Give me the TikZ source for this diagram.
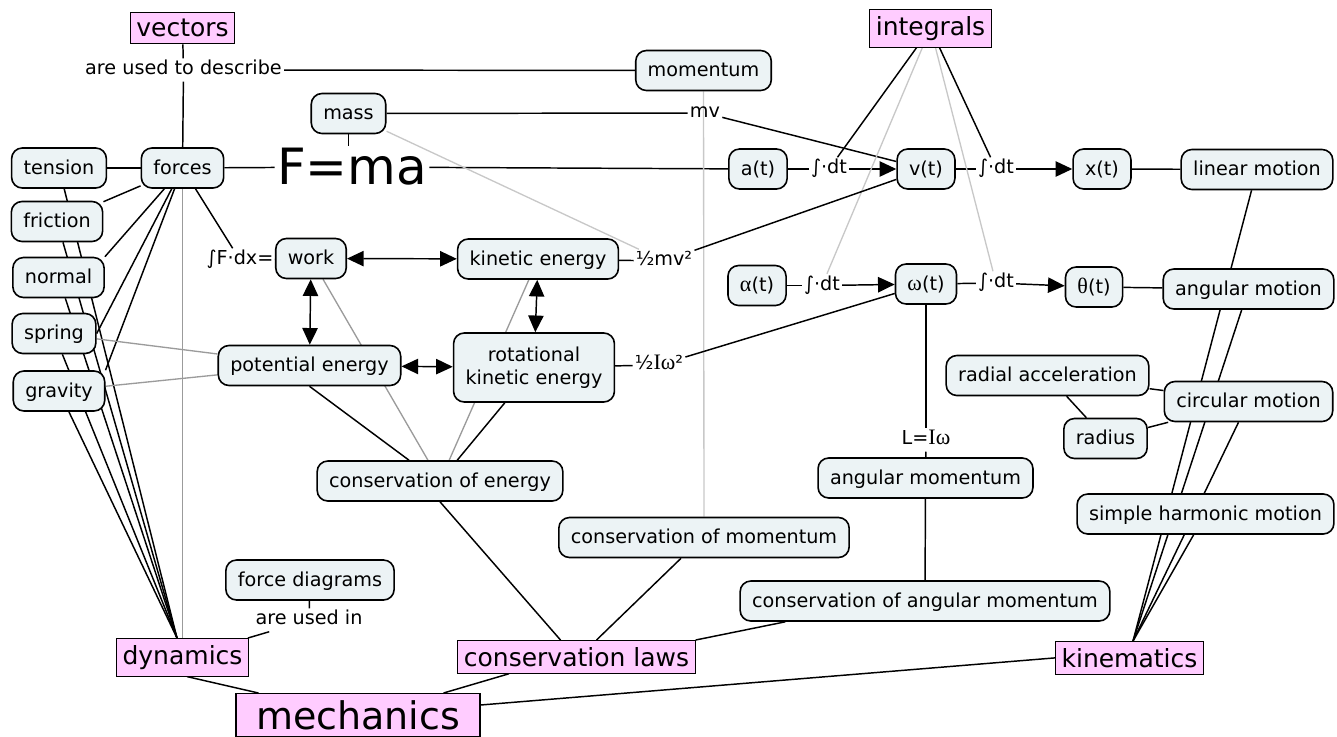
\documentclass[tikz,border=0pt]{standalone}
\usepackage{fontspec}
\setmainfont{DejaVu Sans}
\newfontfamily\grk[Scale=1.15]{Liberation Serif}
\usetikzlibrary{arrows.meta,backgrounds,calc}
\definecolor{boxfill}{RGB}{236,243,245}
\definecolor{topicfill}{RGB}{255,204,255}
\definecolor{midgray}{RGB}{155,155,155}
\definecolor{softgray}{RGB}{200,200,200}
\tikzset{
  cbox/.style={draw=black, line width=1.2pt, fill=boxfill, rounded corners=8pt,
    font=\fontsize{14.4}{17}\selectfont, inner xsep=9pt, inner ysep=7.9pt},
  cpt/.style={cbox, text height=11.6pt, text depth=2.6pt},
  topic/.style={draw=black, line width=0.8pt, fill=topicfill,
    font=\fontsize{18.75}{22}\selectfont, inner xsep=4.5pt, inner ysep=5pt, anchor=north},
  phrase/.style={font=\fontsize{14.4}{17}\selectfont, text height=10.8pt, text depth=3.4pt, inner sep=1.5pt},
  conn/.style={line width=1.1pt, black},
  conngray/.style={line width=1pt, midgray},
  connlight/.style={line width=1pt, softgray},
  arr/.style={conn, -{Triangle[length=12.5pt,width=11.5pt]}},
  darr/.style={conn, {Triangle[length=12.5pt,width=11.5pt]}-{Triangle[length=12.5pt,width=11.5pt]}},
}
\begin{document}
\begin{tikzpicture}[x=0.75pt,y=-0.75pt]
\useasboundingbox (0,0) rectangle (1337,736);

% topic headings
\node[topic] (vectors) at (182.5,12) {vectors};
\node[topic] (integrals) at (930.5,9) {integrals};
\node[topic] (dynamics) at (182.5,638) {dynamics};
\node[topic] (claws) at (576.5,640) {conservation laws};
\node[topic] (kinematics) at (1129.5,641) {kinematics};
\node[topic, font=\fontsize{28.5}{34}\selectfont, minimum width=183pt] (mechanics) at (358,693) {mechanics};

% concepts
\node[cpt] (tension) at (59,168) {tension};
\node[cpt] (forces) at (182.5,168) {forces};
\node[cpt] (friction) at (57,221.5) {friction};
\node[cpt] (normal) at (58.5,277.5) {normal};
\node[cpt] (spring) at (54,333.5) {spring};
\node[cpt] (gravity) at (59,391) {gravity};
\node[cpt] (mass) at (348.5,113.5) {mass};
\node[cpt] (momentum) at (703.5,70.5) {momentum};
\node[cpt] (at) at (758,169) {a(t)};
\node[cpt] (vt) at (926,169) {v(t)};
\node[cpt] (xt) at (1102,169) {x(t)};
\node[cpt] (linear) at (1257,169.5) {linear motion};
\node[cpt] (work) at (311,258.5) {work};
\node[cpt] (kinetic) at (538,259) {kinetic energy};
\node[cpt] (potential) at (309.5,365.5) {potential energy};
\node[cbox, align=center, font=\fontsize{14.4}{17.3}\selectfont, minimum height=51.75pt] (rotational) at (534,367.5) {rotational\\kinetic energy};
\node[cpt] (alphat) at (757,285.5) {{\grk α}(t)};
\node[cpt] (omegat) at (926,284) {{\grk ω}(t)};
\node[cpt] (thetat) at (1094,287) {{\grk θ}(t)};
\node[cpt] (angular) at (1248.5,289) {angular motion};
\node[cpt] (radacc) at (1047.5,375.5) {radial acceleration};
\node[cpt] (radius) at (1105.5,438.5) {radius};
\node[cpt] (circular) at (1248.5,401.5) {circular motion};
\node[cpt] (angmom) at (925.5,478) {angular momentum};
\node[cpt] (shm) at (1205.5,514) {simple harmonic motion};
\node[cpt] (consE) at (440,481) {conservation of energy};
\node[cpt] (consM) at (704,537.5) {conservation of momentum};
\node[cpt] (consAM) at (925,601) {conservation of angular momentum};
\node[cpt] (fdiag) at (310,580) {force diagrams};

% linking phrases
\node[phrase] (pdescribe) at (183.5,70) {are used to describe};
\node[phrase] (pmv) at (705,113) {mv};
\node[phrase] (pint1) at (829,169) {∫·dt};
\node[phrase] (pint2) at (996,169) {∫·dt};
\node[phrase] (pint3) at (822,285.5) {∫·dt};
\node[phrase] (pint4) at (996,283) {∫·dt};
\node[phrase] (pwork) at (240,260) {∫F·dx=};
\node[phrase] (phalfmv) at (664,261) {½mv²};
\node[phrase] (phalfiw) at (659,365) {½{\grk Iω}²};
\node[phrase] (pL) at (926,440) {L={\grk Iω}};
\node[phrase] (pusedin) at (309,620) {are used in};
\node[font=\fontsize{37.5}{40}\selectfont, inner sep=1.5pt] (fma) at (352,167) {F=ma};

\begin{scope}[on background layer]
  % vectors and forces
  \draw[conn] (vectors) -- (pdescribe);
  \draw[conn] (pdescribe) -- (forces);
  \draw[conn] (pdescribe) -- (momentum);
  \draw[conn] (tension) -- (forces);
  \draw[conn] (forces) -- (friction);
  \draw[conn] (forces.center) -- (normal.north east);
  \draw[conn] (forces.center) -- (spring.east);
  \draw[conn] (forces.center) -- (gravity.north east);
  \coordinate (dynapex) at ($(dynamics.north)+(-5.5,0)$);
  \foreach \n in {tension,friction,normal,spring,gravity}
    \draw[conn] (\n) -- (dynapex);
  \draw[conngray] (forces) -- (dynamics);
  \draw[conngray] (spring) -- (potential);
  \draw[conngray] (gravity) -- (potential);
  \draw[conn] (forces) -- (pwork);
  \draw[conn] (pwork) -- (work);
  % F = ma and the time derivatives
  \draw[conn] (forces) -- (fma);
  \draw[conn] (mass.south) -- (mass.south |- fma.north);
  \draw[conn] (fma) -- (at);
  \draw[conn] (mass) -- (pmv);
  \draw[conn] (pmv) -- (vt);
  \draw[connlight] (mass) -- (phalfmv);
  \draw[connlight] (momentum) -- (consM);
  \draw[conn] (at) -- (pint1);
  \draw[arr] (pint1) -- (vt);
  \draw[conn] (vt) -- (pint2);
  \draw[arr] (pint2) -- (xt);
  \draw[conn] (xt) -- (linear);
  \draw[conn] (integrals) -- (pint1);
  \draw[conn] (integrals) -- (pint2);
  \draw[connlight] (integrals) -- (pint3);
  \draw[connlight] (integrals) -- (pint4);
  \draw[conn] (alphat) -- (pint3);
  \draw[arr] (pint3) -- (omegat);
  \draw[conn] (omegat) -- (pint4);
  \draw[arr] (pint4) -- (thetat);
  \draw[conn] (thetat) -- (angular);
  % energy
  \draw[darr] (work) -- (kinetic);
  \draw[darr] (work) -- (potential);
  \draw[darr] (potential) -- (rotational);
  \draw[darr] (kinetic) -- (rotational);
  \draw[conn] (kinetic) -- (phalfmv);
  \draw[conn] (phalfmv) -- (vt);
  \draw[conn] (rotational) -- (phalfiw);
  \draw[conn] (phalfiw) -- (omegat);
  \draw[conngray] (work) -- (consE);
  \draw[conngray] (kinetic) -- (consE);
  \draw[conn] (potential.south) -- ($(consE.north)+(-31,0)$);
  \draw[conn] (rotational) -- (consE);
  % angular quantities
  \draw[conn] (omegat) -- (pL);
  \draw[conn] (pL) -- (angmom);
  \draw[conn] (angmom) -- (consAM);
  \draw[conn] (radacc) -- (circular);
  \draw[conn] (radius) -- (circular);
  \draw[conn] (radacc) -- (radius);
  \coordinate (kinapex) at ($(kinematics.north)+(3.5,0)$);
  \foreach \n in {linear,angular,circular,shm}
    \draw[conn] (\n) -- (kinapex);
  % conservation laws and mechanics
  \draw[conn] (consE.south) -- ($(claws.north)+(-16,0)$);
  \draw[conn] ($(consM.south)+(-23,0)$) -- ($(claws.north)+(20,0)$);
  \draw[conn] ($(consAM.south west)+(46,0)$) -- (claws.north east);
  \draw[conn] (fdiag) -- (pusedin);
  \draw[conn] (pusedin) -- (dynamics);
  \draw[conn] ($(dynamics.south)+(4.5,0)$) -- ($(mechanics.north west)+(23,0)$);
  \draw[conn] ($(claws.south)+(-67.5,0)$) -- ($(mechanics.north east)+(-37,0)$);
  \draw[conn] (kinematics.west) -- ($(mechanics.north east)+(0,12)$);
\end{scope}
\end{tikzpicture}
\end{document}
